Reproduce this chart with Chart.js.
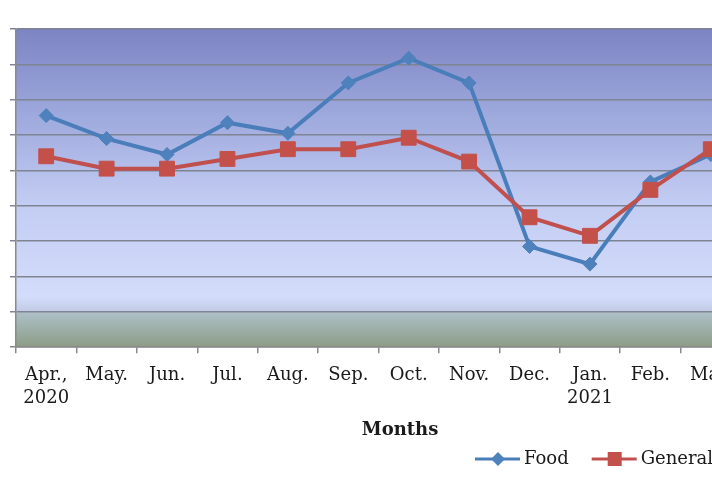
<!DOCTYPE html>
<html>
<head>
<meta charset="utf-8">
<script src="https://cdn.jsdelivr.net/npm/chart.js@4.4.1/dist/chart.umd.min.js"></script>
<style>
  html, body { margin: 0; padding: 0; background: #fff; overflow: hidden; }
  #wrap { width: 780px; height: 492px; }
</style>
</head>
<body>
<div id="wrap"><canvas id="c" width="780" height="492"></canvas></div>
<script>
// months Apr 2020 - Mar 2021 (the right edge is cut off in the picture)
var months = [["Apr.,", "2020"], "May.", "Jun.", "Jul.", "Aug.", "Sep.", "Oct.", "Nov.", "Dec.", ["Jan.", "2021"], "Feb.", "Mar."];
var foodValues = [13.1, 11.8, 10.9, 12.7, 12.1, 14.95, 16.35, 14.95, 5.7, 4.7, 9.35, 10.9];
var generalValues = [10.8, 10.1, 10.1, 10.65, 11.2, 11.2, 11.85, 10.5, 7.35, 6.3, 8.9, 11.2];
var seriesNames = ["Food", "General"];
var yMin = 0, yMax = 18, yStep = 2;

var serif = "'DejaVu Serif', 'Liberation Serif', serif";

// gradient fill behind the plot area, green band at the bottom
var plotBackground = {
    id: "plotBackground",
    beforeDraw: function(chart) {
        var a = chart.chartArea, ctx = chart.ctx;
        var g = ctx.createLinearGradient(0, a.top, 0, a.bottom);
        g.addColorStop(0, "#7d84c3");
        g.addColorStop(0.25, "#9ba6db");
        g.addColorStop(0.55, "#c3cdf3");
        g.addColorStop(0.84, "#d3dcfa");
        g.addColorStop(0.885, "#c3cce6");
        g.addColorStop(0.892, "#adc0c6");
        g.addColorStop(1, "#8c9c86");
        ctx.save();
        ctx.fillStyle = g;
        ctx.fillRect(a.left, a.top, a.right - a.left, a.bottom - a.top);
        ctx.restore();
    }
};

// axis title and the legend (line + marker samples) under the axis
var bottomText = {
    id: "bottomText",
    afterDraw: function(chart) {
        var ctx = chart.ctx;
        ctx.save();
        ctx.fillStyle = "#1a1a1a";
        ctx.textBaseline = "middle";
        ctx.textAlign = "center";
        ctx.font = "bold 18px " + serif;
        ctx.fillText("Months", 400, 430);

        ctx.font = "18px " + serif;
        ctx.textAlign = "left";
        var x = 475, y = 459;
        chart.data.datasets.forEach(function(ds) {
            ctx.strokeStyle = ds.borderColor;
            ctx.lineWidth = 3;
            ctx.beginPath();
            ctx.moveTo(x, y);
            ctx.lineTo(x + 45, y);
            ctx.stroke();
            var cx = x + 23;
            ctx.fillStyle = ds.pointBackgroundColor;
            ctx.beginPath();
            if (ds.pointStyle === "rectRot") {
                ctx.moveTo(cx, y - 7); ctx.lineTo(cx + 7, y); ctx.lineTo(cx, y + 7); ctx.lineTo(cx - 7, y);
            } else {
                ctx.rect(cx - 7, y - 7, 14, 14);
            }
            ctx.closePath();
            ctx.fill();
            ctx.fillStyle = "#1a1a1a";
            ctx.fillText(ds.label, x + 49, y);
            x += 49 + ctx.measureText(ds.label).width + 23;
        });
        ctx.restore();
    }
};

new Chart(document.getElementById("c"), {
    type: "line",
    data: {
        labels: months,
        datasets: [
            {
                label: seriesNames[0],
                data: foodValues,
                borderColor: "#4a7ebb",
                backgroundColor: "#4a7ebb",
                pointBackgroundColor: "#4f81bd",
                pointBorderColor: "#4f81bd",
                pointStyle: "rectRot",
                pointRadius: 7,
                pointBorderWidth: 1,
                borderWidth: 4,
                tension: 0,
                order: 1
            },
            {
                label: seriesNames[1],
                data: generalValues,
                borderColor: "#c0504d",
                backgroundColor: "#c0504d",
                pointBackgroundColor: "#c4504a",
                pointBorderColor: "#c4504a",
                pointStyle: "rect",
                pointRadius: 10.5,
                pointBorderWidth: 1,
                borderWidth: 4,
                tension: 0,
                order: 0
            }
        ]
    },
    options: {
        responsive: false,
        animation: false,
        devicePixelRatio: 1,
        layout: { padding: { left: 10, top: 29, right: 39, bottom: 72 } },
        plugins: {
            legend: { display: false },
            tooltip: { enabled: false }
        },
        scales: {
            x: {
                type: "category",
                offset: true,
                grid: {
                    offset: true,
                    drawOnChartArea: false,
                    drawTicks: true,
                    tickLength: 6,
                    color: "#8a8a8a",
                    lineWidth: 1.5
                },
                border: { color: "#8a8a8a", width: 1.5 },
                ticks: {
                    color: "#1a1a1a",
                    font: { family: serif, size: 18, lineHeight: 1.3 },
                    padding: 10,
                    maxRotation: 0,
                    autoSkip: false
                }
            },
            y: {
                min: yMin,
                max: yMax,
                ticks: { display: false, stepSize: yStep },
                grid: {
                    color: "#7f8492",
                    lineWidth: 1.5,
                    tickLength: 6,
                    drawTicks: true
                },
                border: { color: "#8a8a8a", width: 1.5 }
            }
        }
    },
    plugins: [plotBackground, bottomText]
});
</script>
</body>
</html>
